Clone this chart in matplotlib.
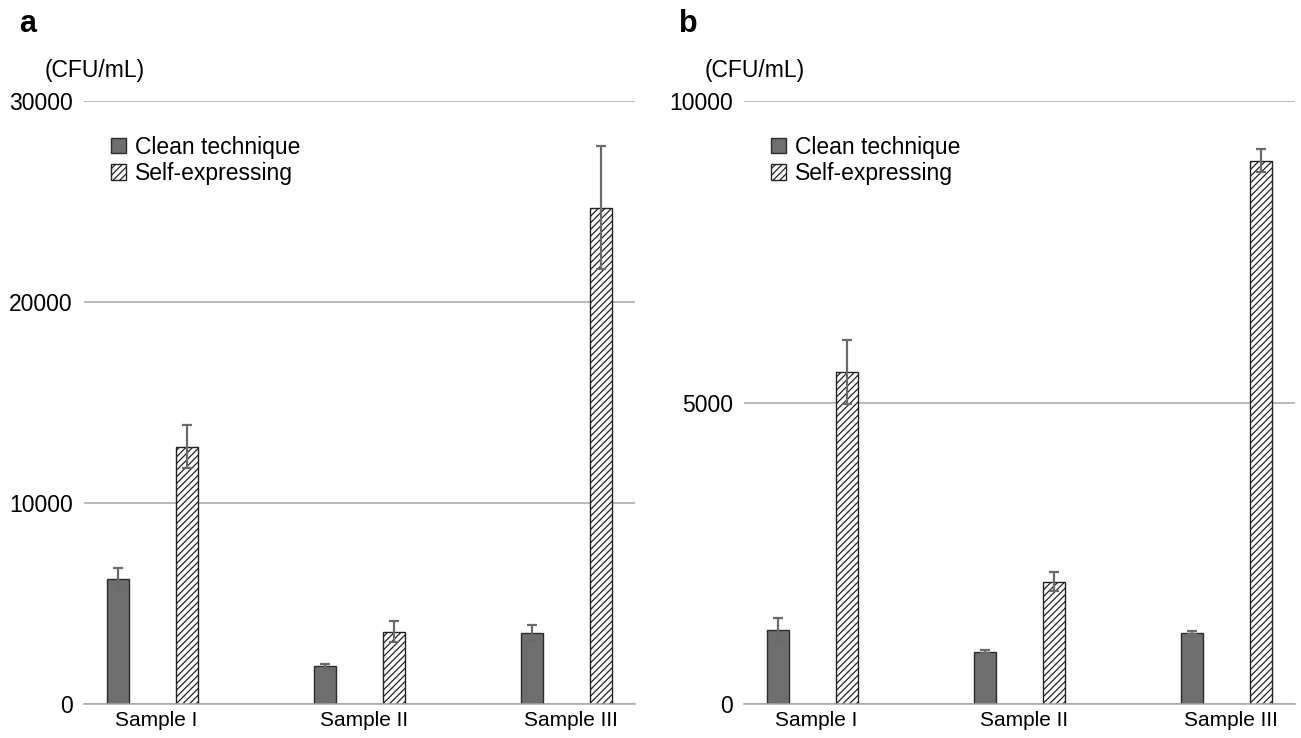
import matplotlib
matplotlib.use("Agg")
import matplotlib.pyplot as plt
import numpy as np

plt.rcParams["font.family"] = ["Liberation Sans", "DejaVu Sans"]
plt.rcParams["hatch.linewidth"] = 0.9

# ── Data ──────────────────────────────────────────────────────────────────────
samples = ["Sample I", "Sample II", "Sample III"]
series = ["Clean technique", "Self-expressing"]

clean_a = [6200, 1870, 3540]
clean_a_err = [550, 100, 410]
self_a = [12800, 3600, 24700]
self_a_err = [1070, 510, 3070]

clean_b = [1220, 870, 1180]
clean_b_err = [200, 30, 25]
self_b = [5500, 2030, 9010]
self_b_err = [530, 155, 195]

panels = [
    ("a", clean_a, clean_a_err, self_a, self_a_err, [0, 10000, 20000, 30000]),
    ("b", clean_b, clean_b_err, self_b, self_b_err, [0, 5000, 10000]),
]

# ── Plot ──────────────────────────────────────────────────────────────────────
fig = plt.figure(figsize=(13.01, 7.38), dpi=100)
fig.patch.set_facecolor("white")

GRID = "#a6a6a6"
BAR = "#6e6e6e"
ERR = "#6a6a6a"
FS = 16.5
width = 0.106
offset = 0.1667
x = np.arange(len(samples))

for i, (tag, cl, cle, se, see, ticks) in enumerate(panels):
    left = 0.0646 + i * 0.5073
    ax = fig.add_axes([left, 0.0461, 0.4235, 0.817])

    ax.bar(x - offset, cl, width, color=BAR, edgecolor="#2b2b2b",
           linewidth=1.0, label=series[0], zorder=3)
    ax.bar(x + offset, se, width, color="white", edgecolor="#222222",
           hatch="/////", linewidth=1.0, label=series[1], zorder=3)
    ax.errorbar(x - offset, cl, yerr=cle, fmt="none", ecolor=ERR,
                elinewidth=1.6, capsize=3.6, capthick=1.6, zorder=4)
    ax.errorbar(x + offset, se, yerr=see, fmt="none", ecolor=ERR,
                elinewidth=1.6, capsize=3.6, capthick=1.6, zorder=4)

    ax.set_xlim(-0.33, 2.33)
    ax.set_ylim(0, ticks[-1])
    ax.set_yticks(ticks)
    ax.set_yticklabels([str(t) for t in ticks], fontsize=FS)
    ax.set_xticks(x + 0.02)
    ax.set_xticklabels(samples, fontsize=15)
    ax.tick_params(axis="y", length=0, pad=8)
    ax.tick_params(axis="x", length=0, pad=5)

    ax.yaxis.grid(True, color=GRID, linewidth=1.1, zorder=0)
    ax.set_axisbelow(True)
    for s in ["top", "right", "left"]:
        ax.spines[s].set_visible(False)
    ax.spines["bottom"].set_color(GRID)
    ax.spines["bottom"].set_linewidth(1.1)
    ax.spines["bottom"].set_zorder(5)

    ax.text(-0.072, 1.05, "(CFU/mL)", transform=ax.transAxes,
            fontsize=FS, ha="left", va="center")
    ax.text(-0.118, 1.127, tag, transform=ax.transAxes,
            fontsize=22, fontweight="bold", ha="left", va="center")

    ax.legend(loc="upper left", bbox_to_anchor=(0.032, 0.958),
              frameon=False, fontsize=FS, handlelength=0.65,
              handleheight=0.65, handletextpad=0.4, labelspacing=0.15,
              borderaxespad=0)

plt.savefig("out.png", dpi=100, facecolor="white")
